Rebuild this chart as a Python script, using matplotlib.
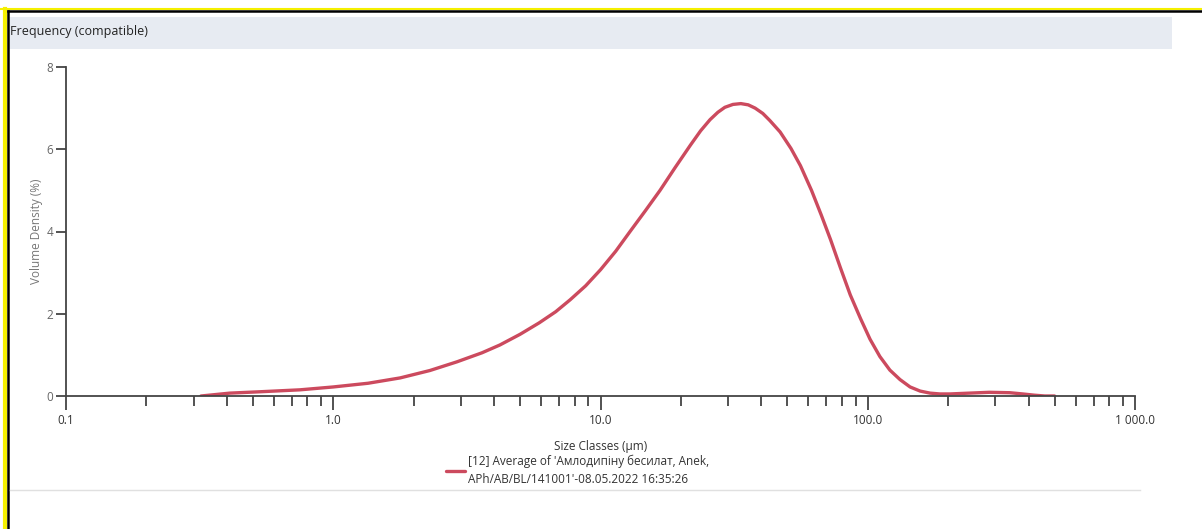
import matplotlib
matplotlib.use("Agg")
import matplotlib.pyplot as plt
from matplotlib.lines import Line2D
from matplotlib.patches import Rectangle
from matplotlib.ticker import FixedLocator, LogLocator, NullFormatter

plt.rcParams["font.family"] = ["Open Sans", "DejaVu Sans"]

# ── data ────────────────────────────────────────────────────────────────
size_um = [0.32, 0.41, 0.52, 0.75, 1.0, 1.35, 1.78, 2.3, 2.9, 3.6, 4.2, 5.0, 5.9,
           6.8, 7.7, 8.8, 10.0, 11.4, 12.9, 14.7, 16.7, 19.0, 21.7, 23.7, 25.7,
           27.5, 29.2, 31.3, 33.5, 35.7, 37.9, 40.5, 43.0, 47.0, 51.6, 56.0,
           61.6, 67.0, 72.6, 79.0, 86.0, 94.0, 102.0, 111.0, 121.0, 132.0,
           144.0, 157.0, 171.0, 186.0, 203.0, 240.0, 285.0, 340.0, 380.0,
           420.0, 460.0, 500.0]
density = [0.0, 0.07, 0.10, 0.15, 0.22, 0.31, 0.44, 0.62, 0.83, 1.05, 1.24, 1.50,
           1.78, 2.05, 2.34, 2.68, 3.07, 3.52, 4.00, 4.50, 5.00, 5.55, 6.10,
           6.45, 6.72, 6.90, 7.02, 7.09, 7.11, 7.08, 7.00, 6.87, 6.70, 6.42,
           6.02, 5.60, 5.00, 4.40, 3.80, 3.12, 2.46, 1.88, 1.38, 0.96, 0.63,
           0.40, 0.22, 0.12, 0.07, 0.05, 0.05, 0.07, 0.09, 0.08, 0.05, 0.02,
           0.0, 0.0]
series_label = ("[12] Average of 'Амлодипіну бесилат, Anek,\n"
                "APh/AB/BL/141001'-08.05.2022 16:35:26")

x_major = [0.1, 1.0, 10.0, 100.0, 1000.0]
x_major_labels = ["0.1", "1.0", "10.0", "100.0", "1 000.0"]
y_ticks = [0, 2, 4, 6, 8]

W, H = 1202, 529
fig = plt.figure(figsize=(W / 100, H / 100), dpi=100)

def fx(px):
    return px / W

def fy(py):
    return 1 - py / H

# ── scanned page frame and header bar ────────────────────────────────────
fig.add_artist(Line2D([fx(0), fx(W)], [fy(9), fy(9)], color="#f5f000", lw=1.5))
fig.add_artist(Line2D([fx(5), fx(5)], [fy(9), fy(H)], color="#f5f000", lw=3))
fig.add_artist(Line2D([fx(8), fx(W)], [fy(11), fy(11)], color="black", lw=1.8))
fig.add_artist(Line2D([fx(8), fx(8)], [fy(11), fy(H)], color="black", lw=1.8))
fig.add_artist(Rectangle((fx(9), fy(49)), fx(1172 - 9), fy(17) - fy(49),
                         color="#e7ebf2", lw=0))
fig.text(fx(10), fy(31), "Frequency (compatible)", fontsize=9, color="#222222",
         va="center", ha="left")
fig.add_artist(Line2D([fx(10), fx(1140)], [fy(490), fy(490)], color="#e0e0e0", lw=1))

# ── chart ────────────────────────────────────────────────────────────────
ax = fig.add_axes([fx(66), fy(396), fx(1135 - 66), fy(67) - fy(396)])
ax.plot(size_um, density, color="#cc4a5e", lw=2.4, label=series_label,
        solid_capstyle="round", solid_joinstyle="round")

ax.set_xscale("log")
ax.set_xlim(0.1, 1000)
ax.set_ylim(0, 8)
ax.xaxis.set_major_locator(FixedLocator(x_major))
ax.set_xticklabels(x_major_labels)
ax.xaxis.set_minor_locator(LogLocator(base=10, subs=range(2, 10)))
ax.xaxis.set_minor_formatter(NullFormatter())
ax.set_yticks(y_ticks)

for s in ["top", "right"]:
    ax.spines[s].set_visible(False)
for s in ["left", "bottom"]:
    ax.spines[s].set_color("#444444")
    ax.spines[s].set_linewidth(1.3)

ax.tick_params(axis="x", which="major", direction="out", length=10, width=1.3,
               color="#444444", labelsize=8.5, labelcolor="#333333", pad=3)
ax.tick_params(axis="x", which="minor", direction="out", length=7, width=1.3,
               color="#444444")
ax.tick_params(axis="y", direction="out", length=7, width=1.3, color="#444444",
               labelsize=8.5, labelcolor="#666666", pad=2)

ax.set_xlabel("Size Classes (µm)", fontsize=8.5, color="#333333", labelpad=9)
ax.set_ylabel("Volume Density (%)", fontsize=8.5, color="#777777", labelpad=3)

fig.legend(loc="upper left", bbox_to_anchor=(fx(440), fy(449)), frameon=False,
           fontsize=8.5, handlelength=1.6, handletextpad=0.3, borderpad=0,
           labelcolor="#333333", labelspacing=0)
plt.setp(fig.legends[0].get_texts(), linespacing=1.45)

fig.savefig("out.png", dpi=100, facecolor="white")
